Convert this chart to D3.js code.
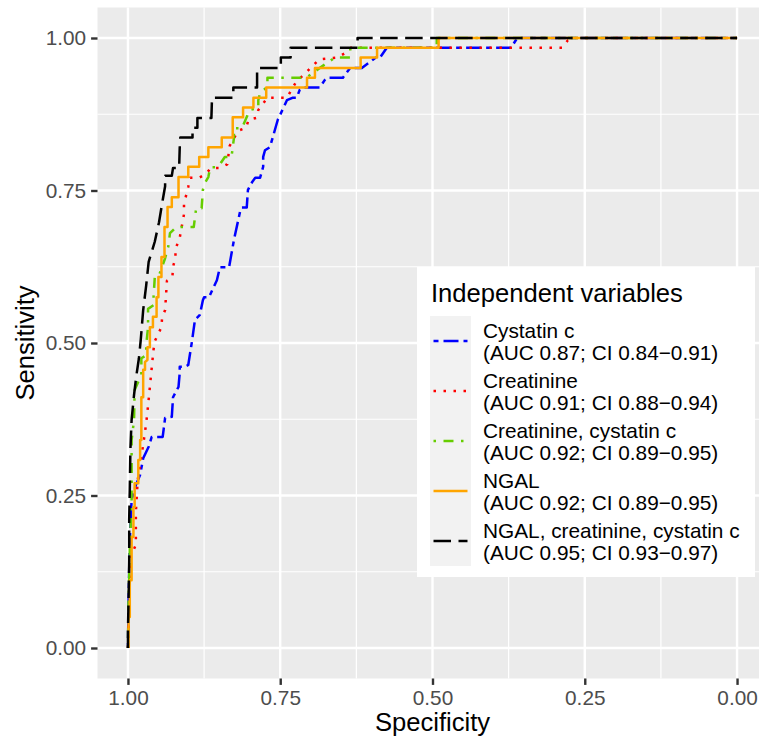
<!DOCTYPE html>
<html>
<head>
<meta charset="utf-8">
<script src="https://cdn.jsdelivr.net/npm/d3@7"></script>
<style>
  html, body { margin: 0; padding: 0; background: #fff; }
  svg { display: block; }
  text { font-family: "Liberation Sans", Arial, Helvetica, sans-serif; }
</style>
</head>
<body>
<svg id="chart" width="759" height="737"></svg>
<script>
// ---------------- DATA ----------------
const xTicks = [1.00, 0.75, 0.50, 0.25, 0.00];
const yTicks = [0.00, 0.25, 0.50, 0.75, 1.00];
const xTickLabels = ["1.00", "0.75", "0.50", "0.25", "0.00"];
const yTickLabels = ["0.00", "0.25", "0.50", "0.75", "1.00"];
const minorTicks = [0.125, 0.375, 0.625, 0.875];

const legendTitle = "Independent variables";
const seriesNames = ["Cystatin c", "Creatinine", "Creatinine, cystatin c", "NGAL", "NGAL, creatinine, cystatin c"];
const seriesAUC = ["(AUC 0.87; CI 0.84\u22120.91)", "(AUC 0.91; CI 0.88\u22120.94)", "(AUC 0.92; CI 0.89\u22120.95)", "(AUC 0.92; CI 0.89\u22120.95)", "(AUC 0.95; CI 0.93\u22120.97)"];

// [specificity, sensitivity]
const cystatinC = [[1.000,0.000],[0.999,0.079],[0.997,0.177],[0.994,0.243],[0.987,0.267],[0.980,0.284],[0.975,0.311],[0.966,0.330],[0.961,0.346],[0.943,0.346],[0.939,0.377],[0.928,0.379],[0.926,0.411],[0.917,0.428],[0.915,0.451],[0.915,0.461],[0.906,0.461],[0.901,0.464],[0.895,0.502],[0.890,0.538],[0.882,0.546],[0.877,0.570],[0.875,0.575],[0.867,0.575],[0.854,0.603],[0.849,0.624],[0.834,0.624],[0.826,0.669],[0.816,0.715],[0.813,0.722],[0.805,0.722],[0.803,0.751],[0.796,0.764],[0.791,0.771],[0.783,0.771],[0.778,0.789],[0.778,0.805],[0.775,0.816],[0.767,0.821],[0.762,0.838],[0.754,0.866],[0.745,0.885],[0.739,0.898],[0.730,0.902],[0.723,0.902],[0.718,0.915],[0.713,0.919],[0.685,0.919],[0.677,0.931],[0.673,0.935],[0.647,0.935],[0.635,0.951],[0.616,0.951],[0.593,0.968],[0.586,0.968],[0.575,0.984],[0.371,0.984],[0.361,1.000],[0.000,1.000]];

const creatinine = [[1.000,0.000],[0.998,0.079],[0.996,0.149],[0.987,0.169],[0.987,0.223],[0.984,0.275],[0.975,0.333],[0.970,0.369],[0.967,0.397],[0.964,0.428],[0.961,0.459],[0.958,0.489],[0.956,0.503],[0.945,0.526],[0.944,0.541],[0.939,0.554],[0.936,0.602],[0.927,0.608],[0.926,0.625],[0.922,0.640],[0.922,0.656],[0.916,0.667],[0.908,0.711],[0.908,0.728],[0.901,0.756],[0.898,0.771],[0.883,0.771],[0.872,0.777],[0.864,0.787],[0.849,0.787],[0.837,0.793],[0.833,0.823],[0.819,0.848],[0.806,0.853],[0.802,0.866],[0.789,0.869],[0.786,0.882],[0.771,0.902],[0.739,0.902],[0.724,0.928],[0.706,0.945],[0.686,0.965],[0.656,0.968],[0.644,0.975],[0.634,0.984],[0.287,0.984],[0.278,0.996],[0.266,1.000],[0.000,1.000]];

const creatinineCystatinC = [[1.000,0.000],[0.999,0.079],[0.997,0.161],[0.994,0.243],[0.994,0.341],[0.990,0.374],[0.989,0.423],[0.978,0.448],[0.978,0.475],[0.970,0.480],[0.970,0.497],[0.967,0.526],[0.967,0.556],[0.958,0.562],[0.958,0.575],[0.956,0.607],[0.950,0.608],[0.939,0.639],[0.934,0.657],[0.931,0.680],[0.921,0.690],[0.892,0.690],[0.888,0.721],[0.879,0.721],[0.877,0.751],[0.874,0.762],[0.868,0.772],[0.865,0.788],[0.854,0.788],[0.847,0.796],[0.841,0.805],[0.830,0.805],[0.826,0.836],[0.826,0.852],[0.813,0.852],[0.800,0.882],[0.786,0.885],[0.786,0.898],[0.783,0.910],[0.771,0.920],[0.771,0.935],[0.707,0.935],[0.685,0.951],[0.660,0.968],[0.635,0.968],[0.635,0.984],[0.493,0.984],[0.493,1.000],[0.000,1.000]];

const ngal = [[0.999,0.000],[0.999,0.051],[0.997,0.051],[0.997,0.111],[0.994,0.111],[0.994,0.182],[0.991,0.182],[0.991,0.231],[0.989,0.231],[0.989,0.270],[0.983,0.270],[0.983,0.308],[0.980,0.308],[0.980,0.341],[0.978,0.341],[0.978,0.411],[0.975,0.411],[0.975,0.456],[0.972,0.456],[0.972,0.469],[0.968,0.472],[0.968,0.493],[0.964,0.493],[0.964,0.526],[0.959,0.526],[0.959,0.543],[0.953,0.543],[0.953,0.575],[0.950,0.575],[0.950,0.608],[0.945,0.608],[0.945,0.641],[0.940,0.641],[0.940,0.690],[0.935,0.690],[0.935,0.723],[0.928,0.723],[0.928,0.739],[0.917,0.739],[0.917,0.772],[0.901,0.772],[0.901,0.789],[0.883,0.789],[0.883,0.805],[0.868,0.805],[0.868,0.821],[0.846,0.821],[0.846,0.837],[0.828,0.837],[0.828,0.870],[0.811,0.870],[0.811,0.886],[0.794,0.886],[0.794,0.902],[0.773,0.902],[0.773,0.919],[0.706,0.919],[0.706,0.935],[0.693,0.935],[0.693,0.951],[0.618,0.951],[0.618,0.968],[0.591,0.968],[0.591,0.984],[0.490,0.984],[0.490,1.000],[0.000,1.000]];

const ngalCreatinineCystatinC = [[1.000,0.000],[1.000,0.030],[0.999,0.079],[0.998,0.144],[0.998,0.210],[0.997,0.259],[0.996,0.325],[0.994,0.374],[0.990,0.415],[0.986,0.448],[0.982,0.475],[0.979,0.505],[0.975,0.554],[0.970,0.595],[0.966,0.633],[0.956,0.666],[0.949,0.698],[0.943,0.734],[0.939,0.757],[0.939,0.774],[0.928,0.774],[0.926,0.787],[0.916,0.787],[0.915,0.820],[0.914,0.837],[0.894,0.837],[0.894,0.853],[0.886,0.853],[0.886,0.869],[0.863,0.869],[0.862,0.902],[0.827,0.902],[0.827,0.919],[0.788,0.919],[0.788,0.951],[0.749,0.951],[0.749,0.968],[0.733,0.968],[0.733,0.984],[0.623,0.984],[0.623,1.000],[0.000,1.000]];

const seriesData = [cystatinC, creatinine, creatinineCystatinC, ngal, ngalCreatinineCystatinC];

// ---------------- STYLES ----------------
const LW = 2.5;
const seriesColors = ["#0000FF", "#FF0000", "#66CD00", "#FFA500", "#000000"];
const seriesDash = [
  [2*LW, 2*LW, 6*LW, 2*LW].join(","),   // twodash
  [1*LW, 3*LW].join(","),                // dotted
  [1*LW, 3*LW, 4*LW, 3*LW].join(","),    // dotdash
  null,                                  // solid
  [7*LW, 3*LW].join(",")                 // longdash
];

// ---------------- LAYOUT ----------------
const svg = d3.select("#chart");
const panel = { left: 97.5, right: 767.5, top: 7.5, bottom: 678.5 };

const x = d3.scaleLinear().domain([1.05, -0.05]).range([panel.left, panel.right]);
const y = d3.scaleLinear().domain([-0.05, 1.05]).range([panel.bottom, panel.top]);

svg.append("rect")
  .attr("x", panel.left).attr("y", panel.top)
  .attr("width", panel.right - panel.left).attr("height", panel.bottom - panel.top)
  .attr("fill", "#EBEBEB");

const grid = svg.append("g");
grid.selectAll("line.vminor").data(minorTicks).enter().append("line")
  .attr("x1", d => x(d)).attr("x2", d => x(d))
  .attr("y1", panel.top).attr("y2", panel.bottom)
  .attr("stroke", "#fff").attr("stroke-width", 1.2);
grid.selectAll("line.hminor").data(minorTicks).enter().append("line")
  .attr("y1", d => y(d)).attr("y2", d => y(d))
  .attr("x1", panel.left).attr("x2", panel.right)
  .attr("stroke", "#fff").attr("stroke-width", 1.2);
grid.selectAll("line.vmajor").data(xTicks).enter().append("line")
  .attr("x1", d => x(d)).attr("x2", d => x(d))
  .attr("y1", panel.top).attr("y2", panel.bottom)
  .attr("stroke", "#fff").attr("stroke-width", 2.4);
grid.selectAll("line.hmajor").data(yTicks).enter().append("line")
  .attr("y1", d => y(d)).attr("y2", d => y(d))
  .attr("x1", panel.left).attr("x2", panel.right)
  .attr("stroke", "#fff").attr("stroke-width", 2.4);

const xAxis = d3.axisBottom(x).tickValues(xTicks)
  .tickFormat((d, i) => xTickLabels[i]).tickSize(6.4).tickPadding(5);
const yAxis = d3.axisLeft(y).tickValues(yTicks)
  .tickFormat((d, i) => yTickLabels[i]).tickSize(6.4).tickPadding(5);

const gx = svg.append("g").attr("transform", `translate(0,${panel.bottom})`).call(xAxis);
const gy = svg.append("g").attr("transform", `translate(${panel.left},0)`).call(yAxis);
[gx, gy].forEach(g => {
  g.select(".domain").remove();
  g.selectAll(".tick line").attr("stroke", "#333333").attr("stroke-width", 2.4);
  g.selectAll(".tick text").attr("fill", "#4D4D4D")
    .style("font-size", "20.8px")
    .style("font-family", "'Liberation Sans', Arial, Helvetica, sans-serif");
});

svg.append("text")
  .attr("x", (panel.left + panel.right) / 2).attr("y", 731)
  .attr("text-anchor", "middle").attr("fill", "#000")
  .style("font-size", "25.6px").text("Specificity");
svg.append("text")
  .attr("transform", `translate(34,${(panel.top + panel.bottom) / 2}) rotate(-90)`)
  .attr("text-anchor", "middle").attr("fill", "#000")
  .style("font-size", "25.6px").text("Sensitivity");

const line = d3.line().x(d => x(d[0])).y(d => y(d[1]));
const curves = svg.append("g");
seriesData.forEach((data, i) => {
  curves.append("path")
    .attr("d", line(data))
    .attr("fill", "none")
    .attr("stroke", seriesColors[i])
    .attr("stroke-width", LW)
    .attr("stroke-linejoin", "round")
    .attr("stroke-linecap", "butt")
    .attr("stroke-dasharray", seriesDash[i]);
});

const lg = svg.append("g");
lg.append("rect").attr("x", 417).attr("y", 267).attr("width", 338).attr("height", 310).attr("fill", "#fff");
lg.append("text").attr("x", 431).attr("y", 302).attr("fill", "#000")
  .style("font-size", "25.6px").text(legendTitle);
seriesNames.forEach((name, i) => {
  const top = 316 + 50 * i;
  lg.append("rect").attr("x", 430).attr("y", top).attr("width", 41).attr("height", 50).attr("fill", "#F2F2F2");
  lg.append("line").attr("x1", 433.5).attr("x2", 467.5)
    .attr("y1", top + 25).attr("y2", top + 25)
    .attr("stroke", seriesColors[i]).attr("stroke-width", LW)
    .attr("stroke-dasharray", seriesDash[i]);
  lg.append("text").attr("x", 483).attr("y", top + 22).attr("fill", "#000")
    .style("font-size", "20.8px").text(name);
  lg.append("text").attr("x", 483).attr("y", top + 44).attr("fill", "#000")
    .style("font-size", "20.8px").text(seriesAUC[i]);
});
</script>
</body>
</html>
